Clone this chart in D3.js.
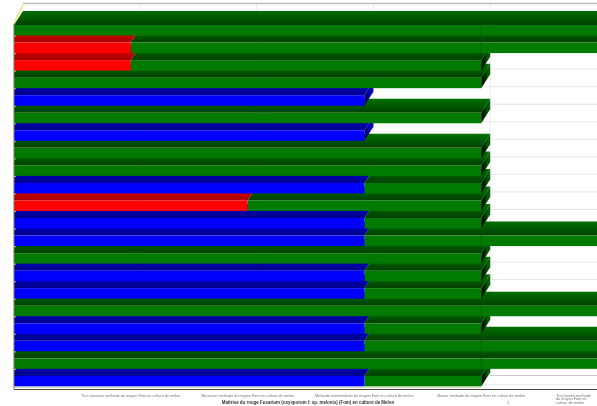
<!DOCTYPE html>
<html>
<head>
<meta charset="utf-8">
<script src="https://cdnjs.cloudflare.com/ajax/libs/d3/7.8.5/d3.min.js"></script>
<style>
body{margin:0;background:#fff}
text{font-family:"Liberation Sans",Arial,sans-serif}
</style>
</head>
<body>
<svg id="chart" width="597" height="406"></svg>
<script>
// first segment of each bar and its colour, then where the green part ends
var rows = d3.range(21)
var firstColor = ['green','red','red','green','blue','green','blue','green','green','blue','red','blue','blue','green','blue','blue','green','blue','blue','green','blue']
var firstValue = [0,1,1,0,3,0,3,0,0,3,2,3,3,0,3,3,0,3,3,0,3]
var totalValue = [6,6,4,4,3,4,3,4,4,4,4,4,6,4,4,4,6,4,6,6,4]
var seamValue = 4
var tickValues = [1,2,3,4,5]
var tickLabels = [
	['Tres mauvais methode du moyen Fom en culture de melon'],
	['Mauvaise methode du moyen Fom en culture de melon'],
	['Methode intermediaire du moyen Fom en culture de melon'],
	['Bonne methode du moyen Fom en culture de melon'],
	['Tres bonne methode','du moyen Fom en','culture de melon']
]
var xTitle = 'Maîtrise du rouge Fusarium (oxysporum f. sp. melonis) (Fom) en culture de Melon'

var colors = {
	green:{front:'#007a00',top:['#007000','#003f00'],side:['#001400','#006000']},
	red:{front:'#ff0000',top:['#e00000','#a80000'],side:['#800000','#c00000']},
	blue:{front:'#0000ff',top:['#0000c8','#00008c'],side:['#000070','#0000d0']}
}

var dx = 9, dy = 14, frontH = 10.5

var x = d3.scaleLinear().domain([0,5]).range([14,598])
var y = d3.scaleBand().domain(rows).range([18,386.4])

var svg = d3.select('#chart')
var defs = svg.append('defs')
defs.append('filter').attr('id','soft').append('feGaussianBlur').attr('stdDeviation',0.4)

Object.keys(colors).forEach(function(k){
	var t = defs.append('linearGradient').attr('id','top-'+k).attr('x1',0).attr('y1',0).attr('x2',0).attr('y2',1)
	t.append('stop').attr('offset',0).attr('stop-color',colors[k].top[0])
	t.append('stop').attr('offset',1).attr('stop-color',colors[k].top[1])
	var s = defs.append('linearGradient').attr('id','side-'+k).attr('x1',0).attr('y1',0).attr('x2',1).attr('y2',0)
	s.append('stop').attr('offset',0.25).attr('stop-color',colors[k].side[0])
	s.append('stop').attr('offset',0.75).attr('stop-color',colors[k].side[1])
})

var root = svg.append('g').attr('filter','url(#soft)')

function rowBottom(i){ return y(i)+y.bandwidth() }

// back wall grid
root.append('g').selectAll('line').data(rows)
	.enter().append('line')
	.attr('x1',14+dx).attr('x2',597)
	.attr('y1',function(d){return rowBottom(d)-1.5})
	.attr('y2',function(d){return rowBottom(d)-1.5})
	.attr('stroke','#e6e6e6')

root.append('line').attr('x1',490).attr('x2',597)
	.attr('y1',rowBottom(20)-11).attr('y2',rowBottom(20)-11).attr('stroke','#c4c4c4')

root.append('g').selectAll('line').data(tickValues)
	.enter().append('line')
	.attr('x1',function(d){return x(d)+dx}).attr('x2',function(d){return x(d)+dx})
	.attr('y1',3).attr('y2',378)
	.attr('stroke','#ececec')

root.append('line').attr('x1',23).attr('x2',597).attr('y1',3.5).attr('y2',3.5).attr('stroke','#bdbdbd').attr('stroke-width',1.5)

// left wall
root.append('path').attr('d','M14,21L23,3L23,7L14,25Z').attr('fill','#eee48c')

function topFace(x0,x1,yTop,flushLeft){
	var start = flushLeft ? 'M'+x0+','+yTop+'L'+x0+','+(yTop-5.5) : 'M'+x0+','+yTop
	return start+'L'+(x0+dx)+','+(yTop-dy)+'L'+(x1+dx)+','+(yTop-dy)+'L'+x1+','+yTop+'Z'
}

// lower bars first, each one sits in front of the top of the one below it
var bars = root.append('g')
rows.slice().reverse().forEach(function(i){
	var bottom = rowBottom(i)
	var top = bottom-frontH
	var g = bars.append('g')
	var segs = []
	if (firstValue[i]>0) segs.push([0,firstValue[i],firstColor[i]])
	if (totalValue[i]>firstValue[i]) segs.push([firstValue[i],totalValue[i],'green'])
	var last = segs[segs.length-1]
	var xe = x(last[1])
	g.append('path')
		.attr('d','M'+xe+','+top+'L'+(xe+dx)+','+(top-dy)+'L'+(xe+dx)+','+(bottom-dy)+'L'+xe+','+bottom+'Z')
		.attr('fill','url(#side-'+last[2]+')')
	segs.slice().reverse().forEach(function(s){
		g.append('path').attr('d',topFace(x(s[0]),x(s[1]),top,s[0]==0 && i>0)).attr('fill','url(#top-'+s[2]+')')
		g.append('rect').attr('x',x(s[0])).attr('y',top)
			.attr('width',x(s[1])-x(s[0])).attr('height',frontH).attr('fill',colors[s[2]].front)
	})
	if (totalValue[i]>seamValue){
		g.append('path')
			.attr('d','M'+x(seamValue)+','+bottom+'L'+x(seamValue)+','+top+'L'+(x(seamValue)+dx)+','+(top-dy))
			.attr('fill','none').attr('stroke','#005a00').attr('stroke-width',0.7)
	}
	// tick on the left wall
	if (i>0) g.append('rect').attr('x',14).attr('y',top-8).attr('width',2).attr('height',2).attr('fill','#c8b860')
})

// axes
root.append('line').attr('x1',14).attr('x2',14).attr('y1',24).attr('y2',389).attr('stroke','#77775a')
root.append('line').attr('x1',14).attr('x2',481).attr('y1',387.3).attr('y2',387.3).attr('stroke','#d8d8b0')
root.append('line').attr('x1',14).attr('x2',597).attr('y1',389.5).attr('y2',389.5).attr('stroke','#444')

var labels = root.append('g').selectAll('text').data(tickValues)
	.enter().append('text')
	.attr('x',function(d,i){return i==4 ? 556 : x(d)})
	.attr('y',396.5)
	.attr('text-anchor',function(d,i){return i==4 ? 'start' : 'middle'})
	.attr('font-size',3.8)
	.attr('fill','#777')
labels.selectAll('tspan').data(function(d,i){return tickLabels[i]})
	.enter().append('tspan')
	.attr('x',function(){return d3.select(this.parentNode).attr('x')})
	.attr('dy',function(d,i){return i==0 ? 0 : 3.7})
	.text(function(d){return d})

root.append('text').attr('x',507).attr('y',403.5).attr('font-size',3.8).attr('fill','#777').text('1,')

root.append('text').attr('x',308).attr('y',403.5)
	.attr('text-anchor','middle').attr('font-size',4.45).attr('font-weight','bold').attr('fill','#333')
	.text(xTitle)
</script>
</body>
</html>
